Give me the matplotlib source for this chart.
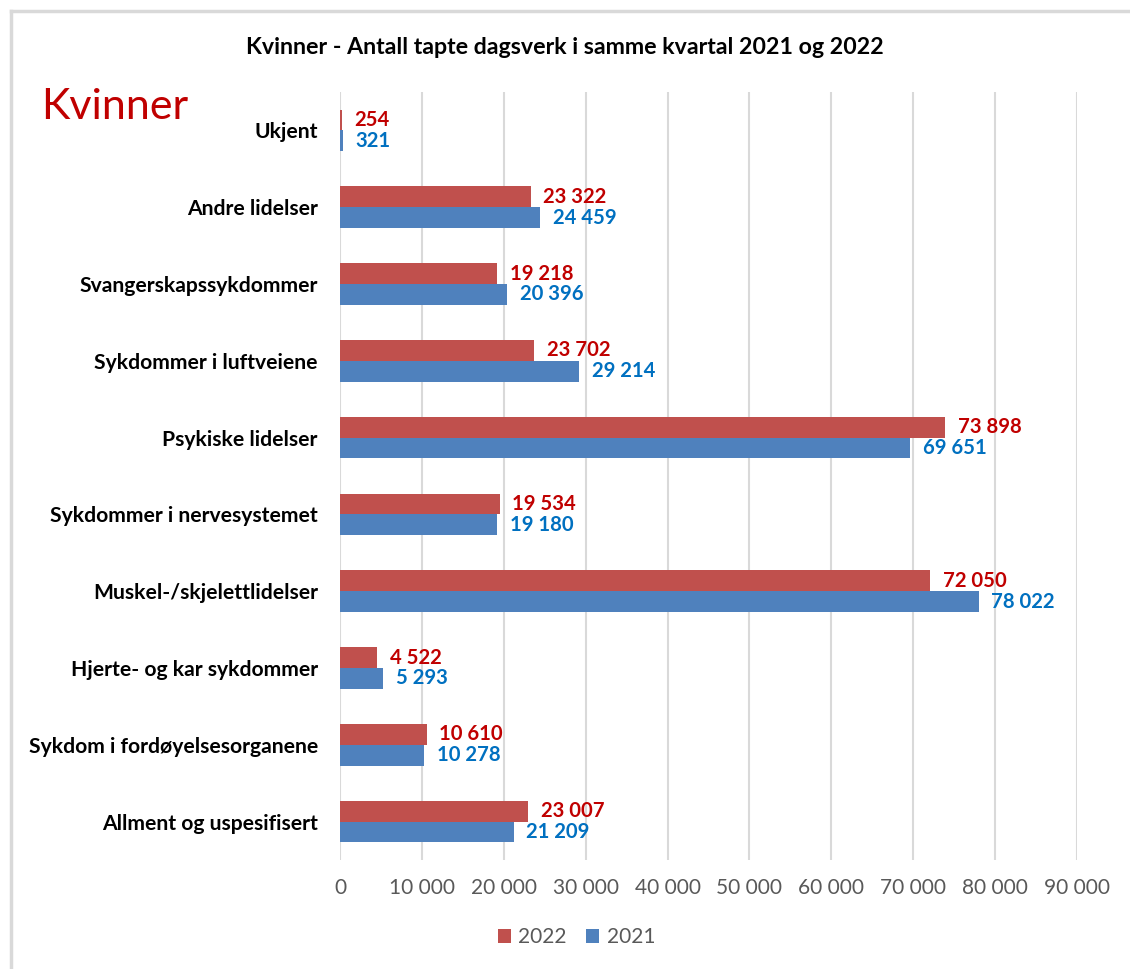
import matplotlib
matplotlib.use("Agg")
import matplotlib.pyplot as plt
from matplotlib.lines import Line2D
from matplotlib.ticker import FuncFormatter
import numpy as np

plt.rcParams['font.family'] = ['Lato', 'DejaVu Sans']

# Data (top to bottom as in the chart)
categories = ["Ukjent", "Andre lidelser", "Svangerskapssykdommer",
              "Sykdommer i luftveiene", "Psykiske lidelser",
              "Sykdommer i nervesystemet", "Muskel-/skjelettlidelser",
              "Hjerte- og kar sykdommer", "Sykdom i fordøyelsesorganene",
              "Allment og uspesifisert"]
values_2022 = [254, 23322, 19218, 23702, 73898, 19534, 72050, 4522, 10610, 23007]
values_2021 = [321, 24459, 20396, 29214, 69651, 19180, 78022, 5293, 10278, 21209]
x_ticks = [0, 10000, 20000, 30000, 40000, 50000, 60000, 70000, 80000, 90000]

red_bar = "#C0504D"
blue_bar = "#4F81BD"
red_txt = "#C00000"
blue_txt = "#0070C0"
grid_col = "#D9D9D9"


def fmt(v):
    return f"{int(v):,}".replace(",", " ")


fig = plt.figure(figsize=(11.3, 9.69), dpi=100)
ax = fig.add_axes([0.3009, 0.1125, 0.6522, 0.7926])

y = np.arange(len(categories))
h = 0.27
b22 = ax.barh(y - h / 2, values_2022, height=h, color=red_bar, label="2022", zorder=3)
b21 = ax.barh(y + h / 2, values_2021, height=h, color=blue_bar, label="2021", zorder=3)

for bar, v in zip(b22, values_2022):
    ax.annotate(fmt(v), (bar.get_width(), bar.get_y() + bar.get_height() / 2),
                xytext=(9, 0), textcoords="offset points", va="center", ha="left",
                color=red_txt, fontsize=14.6, fontweight="bold")
for bar, v in zip(b21, values_2021):
    ax.annotate(fmt(v), (bar.get_width(), bar.get_y() + bar.get_height() / 2),
                xytext=(9, 0), textcoords="offset points", va="center", ha="left",
                color=blue_txt, fontsize=14.6, fontweight="bold")

ax.set_ylim(len(categories) - 0.5, -0.5)
ax.set_xlim(0, 90000)
ax.set_yticks(y)
ax.set_yticklabels(categories, fontsize=15.2, fontweight="bold", color="black")
ax.set_xticks(x_ticks)
ax.xaxis.set_major_formatter(FuncFormatter(lambda v, p: fmt(v)))
ax.tick_params(axis="x", length=0, pad=13, labelsize=15, labelcolor="#595959")
ax.tick_params(axis="y", length=0, pad=16)
ax.grid(axis="x", color=grid_col, linewidth=1.5, zorder=0)
for s in ax.spines.values():
    s.set_visible(False)

fig.text(0.5, 0.951, "Kvinner - Antall tapte dagsverk i samme kvartal 2021 og 2022",
         ha="center", va="center", fontsize=16.7, fontweight="bold")
fig.text(0.036, 0.89, "Kvinner", ha="left", va="center", fontsize=31, color=red_txt)

leg = fig.legend(handles=[b22, b21], loc="center", bbox_to_anchor=(0.51, 0.033),
                 ncol=2, frameon=False, fontsize=15, handlelength=0.65, handleheight=0.65,
                 columnspacing=0.9, handletextpad=0.35)
for t in leg.get_texts():
    t.set_color("#595959")

# chart border (top and left edges only are visible)
fig.add_artist(Line2D([0.0097, 1.0], [0.9886, 0.9886], color=grid_col, linewidth=2.5,
                      transform=fig.transFigure))
fig.add_artist(Line2D([0.0097, 0.0097], [0.0, 0.9886], color=grid_col, linewidth=2.5,
                      transform=fig.transFigure))

fig.savefig("out.png", dpi=100)
